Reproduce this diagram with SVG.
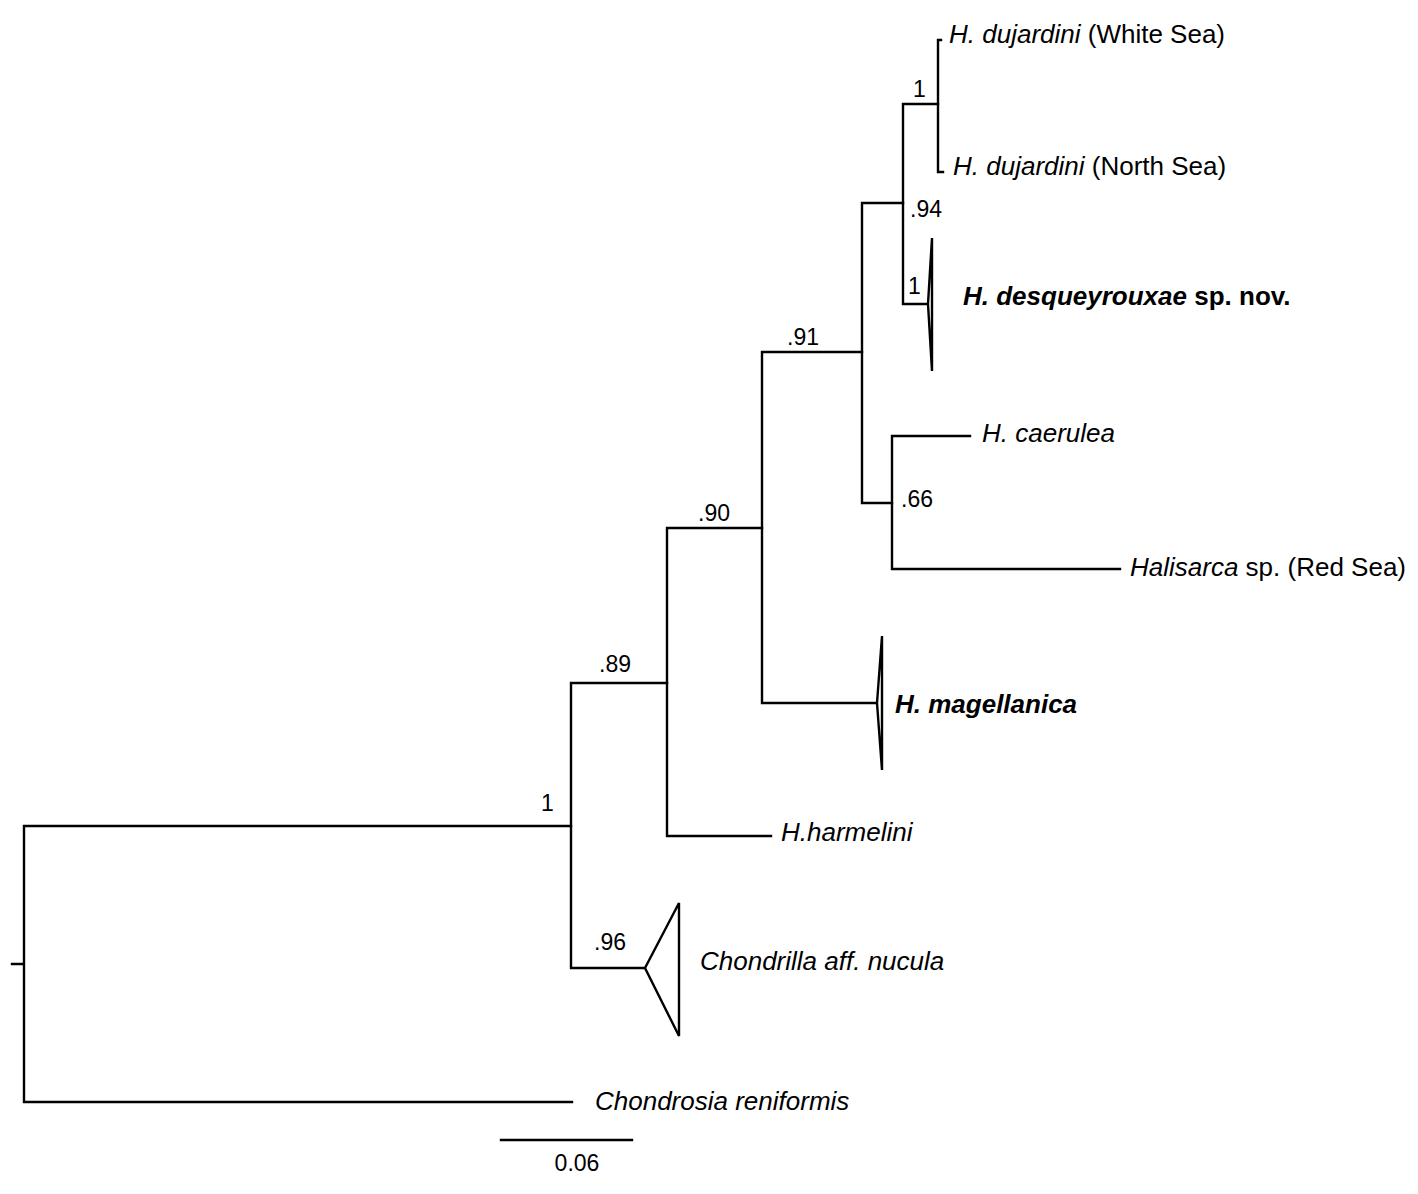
<svg xmlns="http://www.w3.org/2000/svg" width="1418" height="1194" viewBox="0 0 1418 1194">
<style>
.br{fill:none;stroke:#000;stroke-width:2.4;stroke-linecap:square;stroke-linejoin:miter}
.tri{fill:#fff;stroke:#000;stroke-width:2.4;stroke-linejoin:miter}
.lab{font-family:"Liberation Sans",Arial,Helvetica,sans-serif;font-size:26px;fill:#000}
.it{font-style:italic}
.bd{font-weight:bold}
.sup{font-family:"Liberation Sans",Arial,Helvetica,sans-serif;font-size:23px;fill:#000}
</style>
<rect width="1418" height="1194" fill="#fff"/>
<g id="connectors">
<path class="br" d="M12,964 H24 M24,826 V1102 M24,826 H571 M24,1102 H572"/>
<path class="br" d="M571,683 V968 M571,683 H667 M571,968 H645"/>
<path class="br" d="M667,528 V836 M667,528 H762 M667,836 H771"/>
<path class="br" d="M762,352 V703 M762,352 H862 M762,703 H877"/>
<path class="br" d="M862,203 V503 M862,203 H903 M862,503 H892"/>
<path class="br" d="M892,436 V569 M892,436 H970 M892,569 H1120"/>
<path class="br" d="M903,104 V304 M903,104 H938 M903,304 H928"/>
<path class="br" d="M941,40 H938 V172 H943"/>
</g>
<g id="scalebar">
<path class="br" d="M501,1140 H632"/>
<text class="sup" x="577" y="1171" text-anchor="middle">0.06</text>
</g>
<g id="supports">
<text class="sup" x="913" y="97">1</text>
<text class="sup" x="910" y="217">.94</text>
<text class="sup" x="908" y="294">1</text>
<text class="sup" x="787" y="345">.91</text>
<text class="sup" x="901" y="507">.66</text>
<text class="sup" x="698" y="521">.90</text>
<text class="sup" x="599" y="672">.89</text>
<text class="sup" x="541" y="811">1</text>
<text class="sup" x="594" y="950">.96</text>
</g>
<g id="node-dujardini-white">
<text class="lab" x="949" y="43"><tspan class="it">H. dujardini</tspan> (White Sea)</text>
</g>
<g id="node-dujardini-north">
<text class="lab" x="953" y="175"><tspan class="it">H. dujardini</tspan> (North Sea)</text>
</g>
<g id="node-desqueyrouxae">
<polygon class="tri" points="928,304 932,238 932,371"/>
<text class="lab bd" x="963" y="305"><tspan class="it">H. desqueyrouxae</tspan> sp. nov.</text>
</g>
<g id="node-caerulea">
<text class="lab it" x="982" y="442">H. caerulea</text>
</g>
<g id="node-redsea">
<text class="lab" x="1130" y="576"><tspan class="it">Halisarca</tspan> sp. (Red Sea)</text>
</g>
<g id="node-magellanica">
<polygon class="tri" points="877,703 882,636 882,770"/>
<text class="lab bd it" x="895" y="713">H. magellanica</text>
</g>
<g id="node-harmelini">
<text class="lab it" x="781" y="841">H.harmelini</text>
</g>
<g id="node-chondrilla">
<polygon class="tri" points="645,968 679,903 679,1036"/>
<text class="lab it" x="700" y="970">Chondrilla aff. nucula</text>
</g>
<g id="node-chondrosia">
<text class="lab it" x="595" y="1110">Chondrosia reniformis</text>
</g>
</svg>
